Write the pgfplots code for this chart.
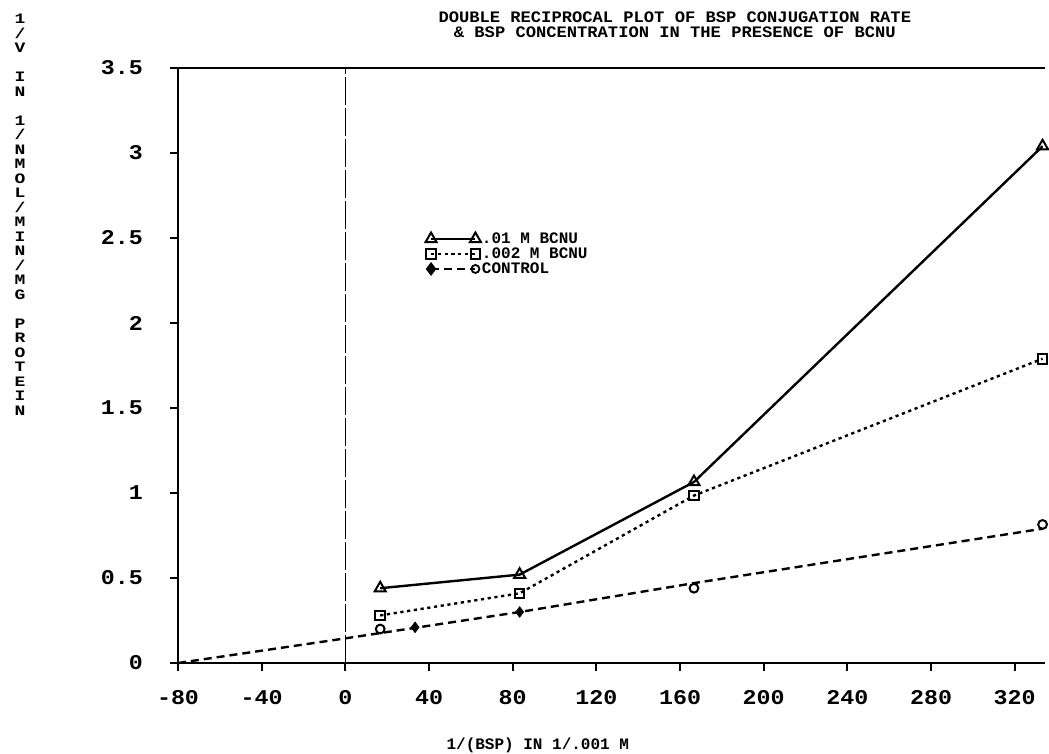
\documentclass[border=0pt]{standalone}
\usepackage{fontspec}
\setmainfont{Liberation Mono}
\newfontfamily\pf{Liberation Mono}
\newfontfamily\ttlf[FakeStretch=1.07]{Liberation Mono}
\newfontfamily\ylf[FakeStretch=1.25]{Liberation Mono}
\newfontfamily\tf[FakeStretch=1.11]{Liberation Mono}
\usepackage{pgfplots}
\pgfplotsset{compat=1.18}
\newcommand{\plotfont}{\pf\fontsize{8}{8}\selectfont\bfseries}
\newcommand{\titlefont}{\ttlf\fontsize{8}{7.8}\selectfont\bfseries}
\newcommand{\tickfont}{\tf\fontsize{10.5}{10}\selectfont\bfseries}
\pgfplotsset{
  endmarks legend/.style={legend image code/.code={\draw[##1] plot coordinates {(0cm,0cm) (0.78cm,0cm)};}},
  ctrl legend/.style={legend image code/.code={
    \draw[##1] (0cm,0cm) -- (0.78cm,0cm);
    \draw[black, solid, fill=black] plot[only marks, mark=diamond*, mark size=2.5pt] coordinates {(0cm,0cm)};
    \draw[black, solid, line width=0.9pt] plot[only marks, mark=o, mark size=2pt] coordinates {(0.78cm,0cm)};
  }},
}
\begin{document}
\begin{tikzpicture}
\begin{axis}[
  scale only axis, width=433.5pt, height=297.5pt,
  xmin=-80, xmax=334.5, ymin=0, ymax=3.5,
  axis x line*=bottom, axis y line*=left,
  axis line style={line width=1.2pt, -},
  xtick={-80,-40,...,320}, ytick={0,0.5,...,3.5},
  tick align=outside, major tick length=4pt,
  tick style={line width=1pt, black},
  /pgf/number format/assume math mode=true,
  ticklabel style={font=\tickfont},
  yticklabel style={xshift=-10pt},
  xticklabel style={yshift=-6pt},
  clip=false,
  legend style={at={(rel axis cs:0.285,0.726)}, anchor=north west, draw=none, fill=none,
    font=\plotfont, row sep=0pt, inner sep=0pt,
    nodes={inner sep=0.5pt, text height=5.5pt, text depth=1pt}},
  legend cell align=left,
]
% .01 M BCNU
\addplot[black, line width=1.2pt, mark=triangle, mark size=3.2pt, mark options={solid, line width=1pt}, endmarks legend]
  coordinates {(16.67,0.44) (83.33,0.52) (166.67,1.065) (333.33,3.04)};
\addlegendentry{.01 M BCNU}
% .002 M BCNU
\addplot[black, line width=1.2pt, dash pattern=on 1.6pt off 1.8pt, mark=square, mark size=2.4pt, mark options={solid, line width=1pt}, endmarks legend]
  coordinates {(16.67,0.28) (83.33,0.41) (166.67,0.985) (333.33,1.79)};
\addlegendentry{.002 M BCNU}
% control legend
\addlegendimage{black, line width=1.2pt, dash pattern=on 4pt off 2.5pt, ctrl legend}
\addlegendentry{CONTROL}
% control line
\addplot[black, line width=1.2pt, dash pattern=on 4pt off 2.5pt, forget plot]
  coordinates {(-80,0) (0,0.145) (83.33,0.30) (166.67,0.47) (333.33,0.79)};
\addplot[black, only marks, mark=o, mark size=2.2pt, mark options={line width=1pt, fill=white}, forget plot]
  coordinates {(16.67,0.20) (166.67,0.44) (333.33,0.815)};
\addplot[black, only marks, mark=diamond*, mark size=2.6pt, forget plot]
  coordinates {(33.33,0.21) (83.33,0.30)};
% vertical line at x=0
\draw[black, line width=0.6pt, dash pattern=on 14pt off 1.5pt] (axis cs:0,0) -- (axis cs:0,3.5);
% top line
\draw[black, line width=1.2pt] (rel axis cs:0,1) -- (rel axis cs:1,1);
% title
\node[font=\titlefont, align=center, anchor=south, inner sep=0pt] at (rel axis cs:0.573,1.05)
  {DOUBLE RECIPROCAL PLOT OF BSP CONJUGATION RATE\\\& BSP CONCENTRATION IN THE PRESENCE OF BCNU};
% x label
\node[font=\plotfont, anchor=center, inner sep=0pt] at (rel axis cs:0.415,-0.138) {1/(BSP) IN 1/.001 M};
% y label stacked
\node[font=\ylf\fontsize{7.2}{7.25}\selectfont\bfseries, align=center, anchor=center, inner sep=0pt] at (rel axis cs:-0.1822,0.753)
  {1\\/\\V\\\strut\\I\\N\\\strut\\1\\/\\N\\M\\O\\L\\/\\M\\I\\N\\/\\M\\G\\\strut\\P\\R\\O\\T\\E\\I\\N};
\coordinate (BL) at (rel axis cs:-0.2053,-0.1529);
\coordinate (TR) at (rel axis cs:1.0046,1.1143);
\end{axis}
\pgfresetboundingbox
\useasboundingbox (BL) rectangle (TR);
\end{tikzpicture}
\end{document}
